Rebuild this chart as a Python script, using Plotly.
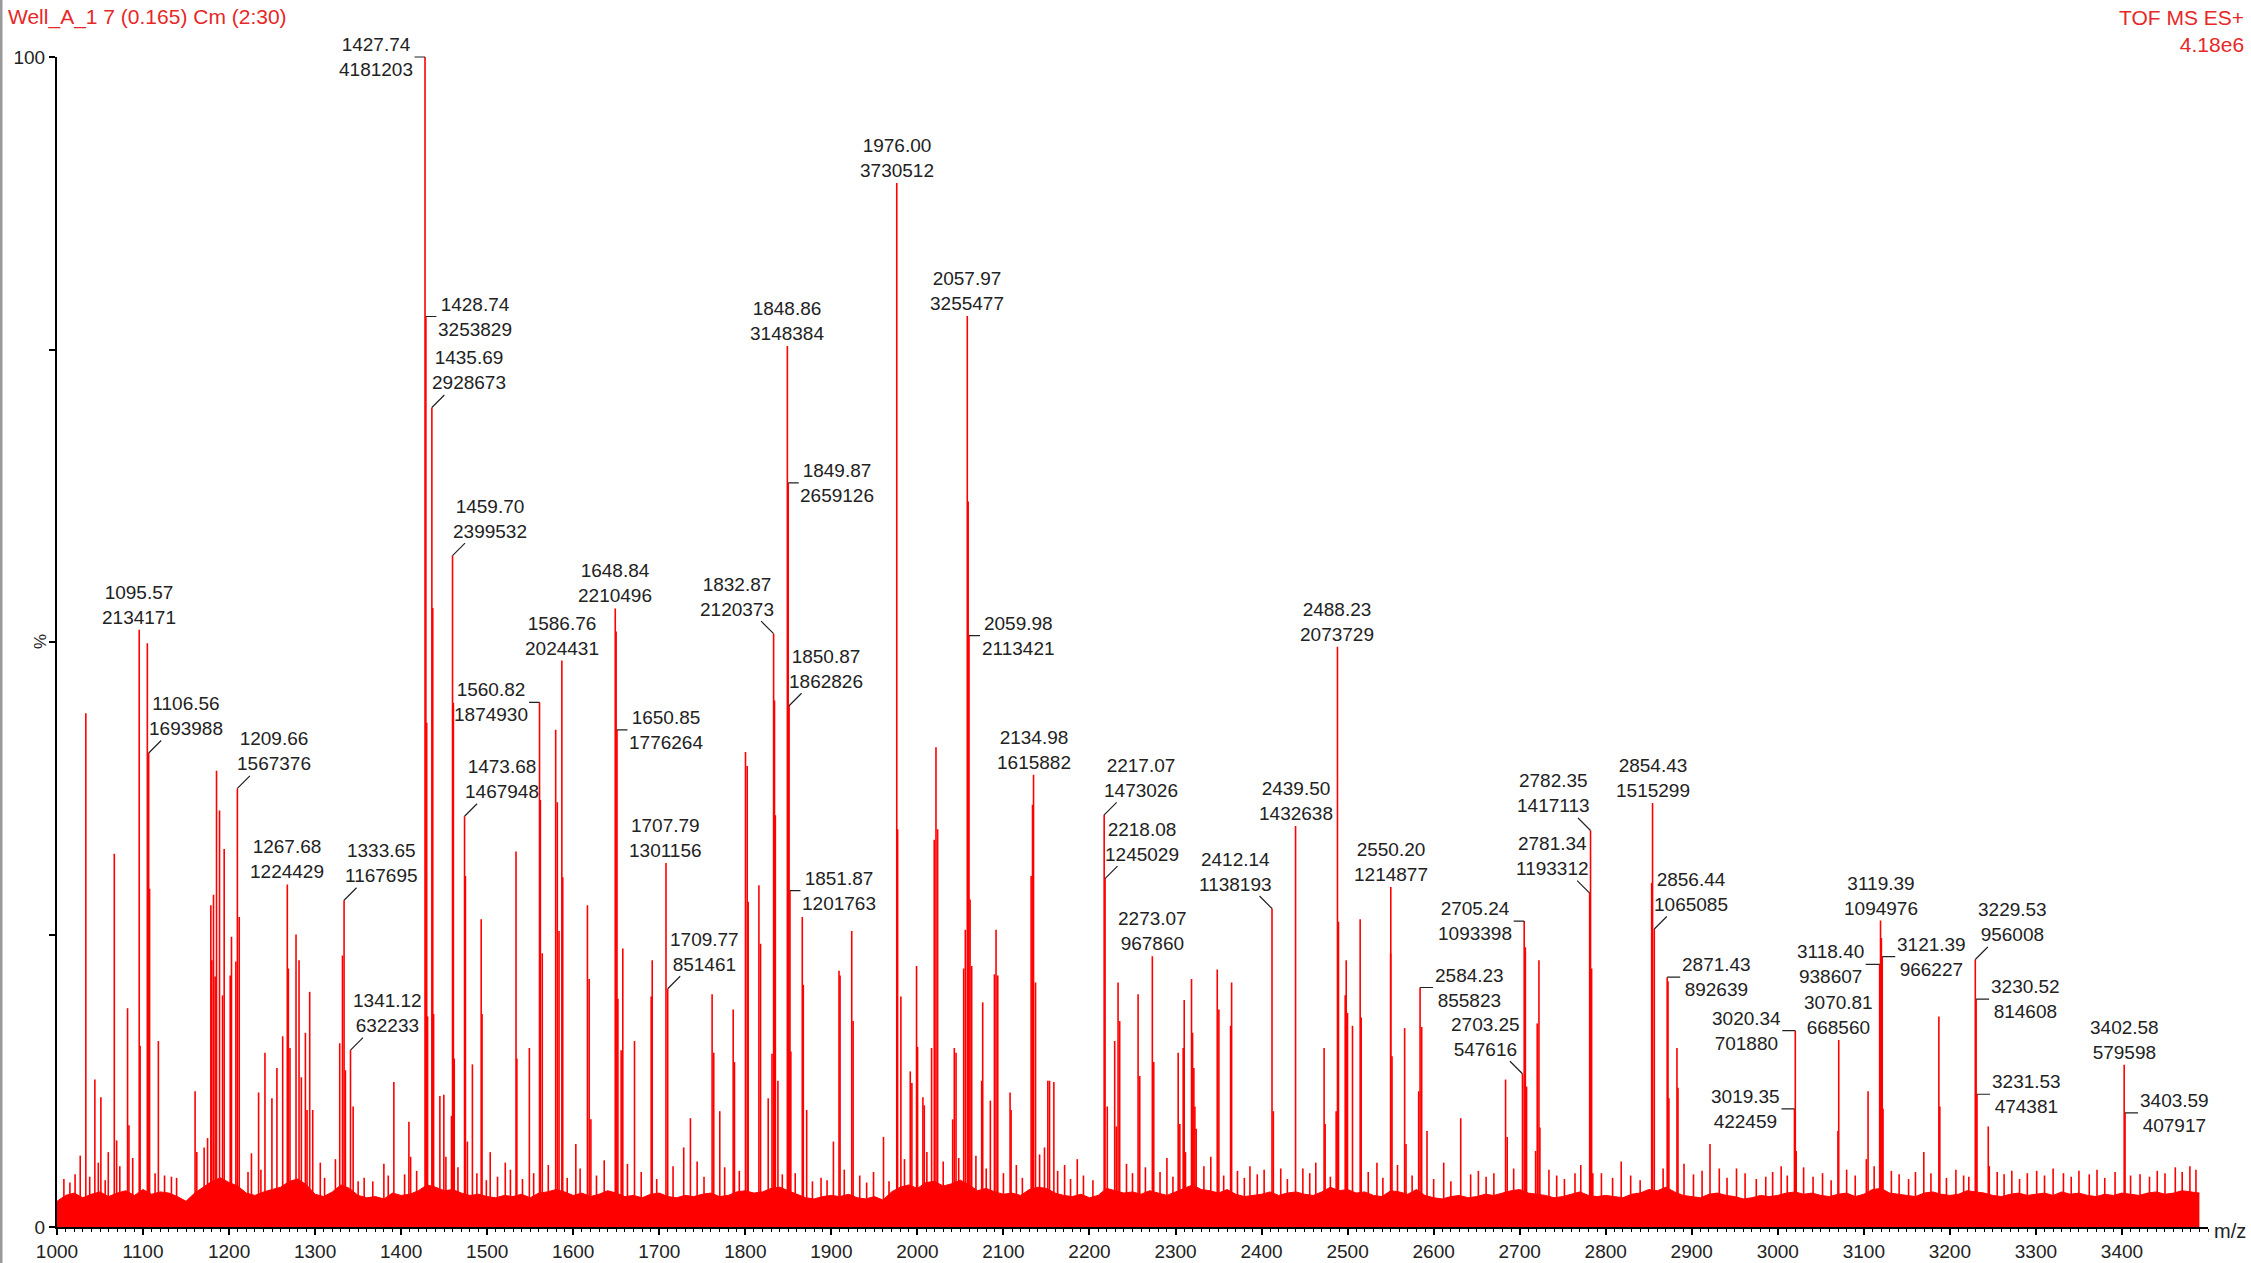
import plotly.graph_objects as go

# ---------------- data ----------------
BASE_INTENSITY = 4181203  # 100 % (4.18e6)

# labelled peaks: m/z and absolute intensity (as printed on the chart)
lab_mz = [1095.57, 1106.56, 1209.66, 1267.68, 1333.65, 1341.12, 1427.74, 1428.74,
          1435.69, 1459.70, 1473.68, 1560.82, 1586.76, 1648.84, 1650.85, 1707.79,
          1709.77, 1832.87, 1848.86, 1849.87, 1850.87, 1851.87, 1976.00, 2057.97,
          2059.98, 2134.98, 2217.07, 2218.08, 2273.07, 2412.14, 2439.50, 2488.23,
          2550.20, 2584.23, 2703.25, 2705.24, 2781.34, 2782.35, 2854.43, 2856.44,
          2871.43, 3019.35, 3020.34, 3070.81, 3118.40, 3119.39, 3121.39, 3229.53,
          3230.52, 3231.53, 3402.58, 3403.59]
lab_int = [2134171, 1693988, 1567376, 1224429, 1167695, 632233, 4181203, 3253829,
           2928673, 2399532, 1467948, 1874930, 2024431, 2210496, 1776264, 1301156,
           851461, 2120373, 3148384, 2659126, 1862826, 1201763, 3730512, 3255477,
           2113421, 1615882, 1473026, 1245029, 967860, 1138193, 1432638, 2073729,
           1214877, 855823, 547616, 1093398, 1193312, 1417113, 1515299, 1065085,
           892639, 422459, 701880, 668560, 938607, 1094976, 966227, 956008,
           814608, 474381, 579598, 407917]

# unlabelled peaks (m/z, % relative intensity)
peak_mz = [1033.5, 1044.0, 1051.0, 1059.6, 1066.6, 1069.3, 1082.0, 1083.6, 1096.6, 1105.0,
           1107.6, 1117.8, 1160.5, 1162.5, 1178.8, 1179.9, 1181.9, 1183.8, 1185.4, 1188.9,
           1192.4, 1194.3, 1201.3, 1202.8, 1207.9, 1211.8, 1234.3, 1241.7, 1249.8, 1255.6,
           1262.3, 1268.9, 1270.8, 1277.8, 1281.3, 1284.0, 1288.7, 1290.6, 1293.7, 1297.2,
           1323.6, 1328.6, 1331.8, 1335.2, 1344.2, 1379.9, 1391.5, 1409.0, 1411.0,
           1429.7, 1430.7, 1436.7, 1437.7, 1445.0, 1449.6, 1458.5, 1460.7, 1461.7, 1474.7,
           1477.0, 1482.8, 1493.0, 1494.0, 1503.5, 1521.0, 1533.5, 1534.5, 1549.0, 1561.8,
           1564.0, 1579.6, 1581.5, 1583.5, 1587.8, 1603.0, 1616.5, 1618.5, 1620.5, 1649.84,
           1651.9, 1655.7, 1657.6, 1671.2, 1690.6, 1691.8, 1728.4, 1736.2, 1761.4, 1763.3,
           1770.3, 1785.9, 1787.4, 1800.2, 1802.2, 1803.3, 1815.8, 1817.7, 1826.6, 1831.0,
           1833.9, 1834.9, 1837.9, 1852.9, 1866.2, 1867.4, 1871.3, 1902.4, 1908.9, 1910.1,
           1923.7, 1925.3, 1960.6, 1977.0, 1980.8, 1991.7, 1993.6, 1999.0, 2000.2, 2006.4,
           2008.0, 2016.5, 2019.6, 2021.6, 2023.5, 2041.0, 2042.9, 2044.9, 2053.8, 2055.7,
           2058.98, 2061.2, 2063.1, 2074.7, 2075.9, 2084.8, 2089.5, 2091.4, 2093.4, 2107.7,
           2108.9, 2132.2, 2133.8, 2137.3, 2147.7, 2151.6, 2153.6, 2158.6, 2171.1, 2185.8,
           2220.7, 2229.3, 2231.2, 2233.2, 2235.1, 2256.5, 2258.4, 2274.7,
           2303.1, 2305.0, 2308.9, 2310.1, 2311.6, 2318.6, 2319.8, 2321.3, 2322.5, 2324.0,
           2348.5, 2350.4, 2364.0, 2365.2, 2386.5, 2413.7, 2422.3, 2472.7, 2473.9, 2486.7,
           2489.4, 2497.2, 2498.4, 2499.9, 2505.7, 2514.6, 2515.8, 2534.1, 2550.0, 2551.6,
           2566.3, 2567.9, 2582.6, 2586.1, 2592.3, 2611.7, 2631.5, 2683.6, 2685.5, 2706.6,
           2708.0, 2718.5, 2720.4, 2722.4, 2723.5, 2764.3, 2783.6, 2785.0, 2853.4, 2866.7,
           2872.4, 2873.4, 2882.8, 2884.0, 2921.2, 2932.0, 3003.9, 3021.4, 3069.9, 3102.9,
           3104.9, 3120.39, 3122.3, 3169.7, 3187.2, 3188.3, 3244.6, 3245.8, 3300.9]
peak_pct = [43.9, 12.6, 11.1, 6.4, 31.9, 7.4, 18.7, 8.7, 15.5, 49.9,
            28.9, 15.9, 11.6, 6.4, 27.5, 22.8, 28.4, 21.4, 39.0, 35.6,
            19.8, 32.3, 21.5, 24.8, 22.7, 26.5, 11.5, 14.9, 11.0, 13.6,
            16.3, 22.1, 15.3, 25.0, 22.8, 12.8, 16.6, 10.0, 20.1, 10.0,
            5.8, 15.7, 23.2, 13.4, 10.3, 5.4, 12.4, 9.0, 6.0,
            43.1, 18.0, 52.9, 18.2, 11.2, 11.3, 9.5, 44.8, 14.4, 30.0,
            7.3, 13.9, 26.3, 18.2, 6.4, 5.5, 32.1, 14.4, 15.3, 36.5,
            23.4, 42.5, 36.3, 25.3, 29.9, 7.1, 27.5, 21.2, 9.2, 50.9,
            19.5, 15.1, 23.8, 15.9, 19.7, 22.8, 6.8, 9.3, 19.9, 14.9,
            9.9, 18.6, 14.1, 40.6, 39.4, 27.8, 29.2, 24.2, 11.0, 14.8,
            45.0, 35.2, 12.5, 15.0, 26.5, 20.7, 10.0, 7.3, 21.9, 21.5,
            25.3, 17.6, 7.7, 34.0, 19.7, 13.3, 12.3, 22.3, 15.4, 11.1,
            10.4, 15.3, 33.1, 41.0, 34.0, 9.2, 15.3, 14.9, 22.1, 25.4,
            62.0, 28.0, 22.3, 12.5, 19.2, 10.8, 21.6, 25.4, 21.5, 11.5,
            10.0, 30.0, 36.1, 20.9, 6.8, 12.5, 12.5, 12.4, 5.3, 5.8,
            10.3, 15.9, 8.6, 20.9, 17.6, 19.9, 12.9, 14.1,
            14.9, 8.8, 15.3, 19.4, 6.4, 21.2, 16.6, 13.6, 10.3, 8.4,
            22.0, 18.6, 17.2, 20.9, 5.2, 9.9, 5.0, 15.3, 8.8, 9.9,
            26.1, 19.8, 22.8, 18.3, 17.2, 26.3, 17.9, 5.5, 23.4, 14.6,
            17.0, 7.1, 11.6, 17.1, 8.2, 5.5, 9.3, 12.6, 7.7, 23.9,
            12.0, 6.5, 17.4, 22.8, 8.5, 4.6, 22.1, 4.6, 29.4, 5.0,
            21.0, 11.0, 15.3, 11.9, 7.1, 5.0, 5.2, 6.5, 8.2, 5.8,
            11.6, 24.7, 10.1, 6.4, 18.0, 10.3, 8.6, 5.2, 4.8]

# small spikes sticking out of the noise (m/z, %)
minor_mz = [1008, 1015, 1021, 1027, 1038, 1048, 1056, 1073, 1088, 1114,
            1125, 1133, 1139, 1171, 1175, 1222, 1226, 1237, 1306, 1311,
            1350, 1357, 1367, 1385, 1404, 1418, 1452, 1466, 1488, 1499,
            1512, 1527, 1541, 1554, 1571, 1593, 1608, 1627, 1636, 1663,
            1679, 1697, 1716, 1744, 1752, 1776, 1793, 1843, 1858, 1878,
            1888, 1895, 1915, 1933, 1941, 1949, 1967, 1985, 2011, 2030,
            2048, 2068, 2080, 2100, 2115, 2122, 2142, 2163, 2178, 2193,
            2204, 2243, 2250, 2265, 2282, 2290, 2297, 2333, 2341, 2356,
            2372, 2380, 2395, 2403, 2430, 2448, 2456, 2463, 2480, 2524,
            2541, 2558, 2575, 2600, 2620, 2643, 2652, 2661, 2670, 2693,
            2734, 2743, 2752, 2771, 2795, 2808, 2818, 2829, 2840, 2891,
            2902, 2912, 2941, 2952, 2962, 2975, 2986, 2994, 3011, 3030,
            3041, 3052, 3062, 3080, 3090, 3112, 3132, 3141, 3152, 3160,
            3178, 3196, 3207, 3216, 3222, 3255, 3263, 3272, 3281, 3290,
            3310, 3320, 3332, 3341, 3350, 3362, 3371, 3380, 3392, 3410,
            3421, 3432, 3441, 3450, 3462, 3470, 3479, 3486]
minor_pct = [4.1, 3.8, 4.5, 6.1, 4.3, 5.5, 4.0, 5.2, 5.9, 4.6,
             4.4, 4.3, 4.2, 6.8, 7.6, 4.7, 6.3, 4.9, 5.5, 4.2,
             3.9, 4.2, 3.9, 4.4, 4.5, 4.8, 6.0, 5.1, 4.6, 4.0,
             4.3, 4.9, 4.1, 4.6, 5.3, 4.2, 5.0, 4.4, 5.7, 5.4,
             4.7, 4.1, 5.2, 5.6, 4.3, 5.1, 4.8, 4.5, 4.6, 3.9,
             4.2, 4.0, 4.9, 4.4, 3.8, 4.7, 3.9, 5.8, 6.4, 5.6,
             5.9, 6.1, 5.0, 4.6, 5.3, 4.2, 6.2, 4.8, 4.1, 4.4,
             4.0, 5.4, 4.6, 5.1, 4.7, 5.9, 4.3, 5.2, 6.0, 4.4,
             4.8, 4.2, 4.5, 4.9, 4.1, 5.0, 4.6, 5.5, 4.3, 4.7,
             4.2, 5.3, 4.4, 4.1, 3.9, 4.5, 4.8, 4.3, 4.6, 5.0,
             4.9, 4.4, 4.1, 5.3, 4.6, 4.2, 5.6, 4.4, 4.0, 5.4,
             4.5, 4.8, 4.2, 5.0, 4.6, 4.1, 4.3, 4.7, 4.4, 5.1,
             4.3, 4.6, 4.0, 4.9, 4.4, 5.2, 4.8, 4.5, 4.1, 4.7,
             4.6, 4.2, 4.9, 4.4, 4.3, 4.7, 4.5, 4.8, 4.1, 4.6,
             4.4, 5.0, 4.6, 4.3, 4.8, 4.5, 4.9, 4.2, 4.7, 4.4,
             4.5, 4.3, 4.8, 4.6, 5.1, 4.7, 5.2, 4.9]

# baseline noise level (%), one value per 10 m/z from 1000 to 3490
noise_mz = list(range(1000, 3500, 10))
noise_pct = [
    2.2, 2.7, 2.9, 2.5, 2.8, 3.0, 2.6, 2.9, 3.1, 2.7,   # 1000
    3.2, 2.8, 3.0, 2.9, 2.6, 2.2, 2.9, 3.4, 3.9, 4.2,   # 1100
    3.8, 3.5, 2.9, 2.7, 3.0, 3.2, 3.4, 3.9, 4.1, 3.6,   # 1200
    2.8, 2.6, 3.0, 3.6, 3.3, 2.7, 2.5, 2.6, 2.4, 2.9,   # 1300
    2.7, 2.8, 3.1, 3.6, 3.4, 3.1, 3.2, 2.9, 2.7, 2.8,   # 1400
    2.6, 2.5, 2.7, 2.6, 2.8, 2.5, 2.9, 3.0, 3.2, 3.0,   # 1500
    2.7, 2.9, 2.6, 2.8, 3.1, 2.9, 2.6, 2.7, 2.5, 2.8,   # 1600
    2.9, 2.6, 2.5, 2.7, 2.6, 2.8, 2.9, 2.6, 2.7, 3.0,   # 1700
    3.1, 2.9, 3.0, 3.3, 3.4, 3.1, 2.8, 2.5, 2.4, 2.6,   # 1800
    2.7, 2.6, 2.8, 2.5, 2.4, 2.6, 2.3, 3.0, 3.4, 3.6,   # 1900
    3.3, 3.8, 3.9, 3.5, 3.7, 4.0, 3.6, 3.1, 3.3, 3.0,   # 2000
    2.8, 2.9, 2.7, 3.2, 3.4, 3.3, 2.9, 2.7, 2.6, 2.8,   # 2100
    2.5, 2.7, 3.3, 3.1, 2.9, 3.0, 2.8, 3.1, 2.9, 2.7,   # 2200
    3.0, 3.3, 3.6, 3.2, 3.1, 2.9, 3.2, 2.8, 2.6, 2.7,   # 2300
    2.8, 3.0, 2.7, 2.9, 3.0, 2.8, 2.7, 3.0, 3.4, 3.1,   # 2400
    3.2, 2.9, 3.0, 2.7, 2.6, 3.1, 3.0, 2.8, 3.2, 2.7,   # 2500
    2.5, 2.4, 2.6, 2.7, 2.5, 2.6, 2.8, 2.7, 2.9, 3.1,   # 2600
    3.2, 2.9, 2.8, 2.7, 2.5, 2.6, 2.8, 3.0, 2.7, 2.6,   # 2700
    2.7, 2.6, 2.5, 2.8, 2.9, 3.2, 3.1, 3.4, 3.0, 2.7,   # 2800
    2.6, 2.5, 2.8, 2.9, 2.7, 2.6, 2.4, 2.5, 2.7, 2.6,   # 2900
    2.7, 2.9, 3.0, 2.8, 2.9, 2.7, 2.6, 2.8, 2.9, 2.6,   # 3000
    2.8, 3.2, 3.3, 2.9, 2.8, 2.7, 2.6, 2.9, 3.0, 2.8,   # 3100
    2.7, 2.8, 3.1, 3.0, 2.9, 2.7, 2.6, 2.8, 2.9, 2.7,   # 3200
    2.8, 2.9, 2.7, 3.0, 2.8, 2.9, 2.7, 2.6, 2.8, 2.7,   # 3300
    2.9, 2.8, 2.7, 2.9, 3.0, 2.8, 2.9, 3.1, 3.0, 2.9,   # 3400
]

x_tick_vals = list(range(1000, 3500, 100))
y_tick_vals = [0, 25, 50, 75, 100]
y_tick_text = ["0", "", "", "", "100"]

# label placement style per labelled peak (a=above, r/l=side, ur/ul=diagonal)
lab_style = ["a", "ur", "ur", "a", "ur", "ur", "l", "r", "ur", "ur", "ur", "l", "a", "a", "r", "a",
             "ur", "ul", "a", "r", "ur", "r", "a", "a", "r", "a", "ur", "ur", "a", "ul", "a", "a",
             "a", "r", "ul", "l", "ul", "ul", "a", "ur", "r", "l", "l", "a", "l", "a", "r", "ur",
             "r", "r", "a", "r"]

# ---------------- layout constants ----------------
W, H = 2251, 1263
ML, MR, MT, MB = 57, 43, 57, 36
PW, PH = W - ML - MR, H - MT - MB
RED = "#FF0000"
TXT = "#222222"
FONT = "Liberation Sans, Arial, sans-serif"


def px_x(px):
    return (px - ML) / PW


def px_y(py):
    return (H - MB - py) / PH


# ---------------- traces ----------------
lab_pct = [v / BASE_INTENSITY * 100 for v in lab_int]
all_mz = minor_mz + peak_mz + lab_mz
all_pct = minor_pct + peak_pct + lab_pct

sx, sy = [], []
for m, p in zip(all_mz, all_pct):
    sx += [m, m, None]
    sy += [0, p, None]

fig = go.Figure()
fig.add_trace(go.Scatter(x=noise_mz, y=noise_pct, mode="lines", fill="tozeroy",
                         fillcolor=RED, line=dict(color=RED, width=1),
                         hoverinfo="skip", showlegend=False))
fig.add_trace(go.Scatter(x=sx, y=sy, mode="lines", line=dict(color=RED, width=1.6),
                         hoverinfo="skip", showlegend=False))

# ---------------- annotations ----------------
offsets = {"r": (49, 0), "l": (-49, 0), "ur": (37, -37), "ul": (-37, -37)}
LABEL_FONT = dict(family=FONT, size=19, color=TXT)
annotations = []
for m, v, p, s in zip(lab_mz, lab_int, lab_pct, lab_style):
    text = f"{m:.2f}<br>{v}"
    if s == "a":
        annotations.append(dict(x=m, y=p, xref="x", yref="y", text=text, showarrow=False,
                                xanchor="center", yanchor="bottom", font=LABEL_FONT))
    else:
        ax, ay = offsets[s]
        annotations.append(dict(x=m, y=p, xref="x", yref="y", text=text, showarrow=True,
                                arrowhead=0, arrowwidth=1.2, arrowcolor=TXT, ax=ax, ay=ay,
                                standoff=0, startstandoff=0, font=LABEL_FONT))

annotations += [
    dict(x=px_x(6), y=px_y(17), xref="paper", yref="paper", text="Well_A_1 7 (0.165) Cm (2:30)",
         showarrow=False, xanchor="left", yanchor="middle",
         font=dict(family=FONT, size=21, color="#E62828")),
    dict(x=px_x(2246), y=px_y(4), xref="paper", yref="paper", text="TOF MS ES+<br>4.18e6",
         showarrow=False, xanchor="right", yanchor="top", align="right",
         font=dict(family=FONT, size=21, color="#E62828")),
    dict(x=px_x(40), y=0.5, xref="paper", yref="paper", text="%", showarrow=False,
         textangle=-90, xanchor="center", yanchor="middle",
         font=dict(family=FONT, size=17, color=TXT)),
    dict(x=px_x(2212), y=px_y(1231), xref="paper", yref="paper", text="m/z", showarrow=False,
         xanchor="left", yanchor="middle", font=dict(family=FONT, size=20, color=TXT)),
]

shapes = [
    dict(type="line", xref="paper", yref="paper", x0=px_x(1), x1=px_x(1), y0=px_y(H), y1=px_y(0),
         line=dict(color="#9a9a9a", width=3)),
]

fig.update_layout(
    width=W, height=H,
    margin=dict(l=ML, r=MR, t=MT, b=MB, autoexpand=False),
    paper_bgcolor="white", plot_bgcolor="white",
    annotations=annotations, shapes=shapes,
    font=dict(family=FONT, color=TXT),
    xaxis=dict(range=[1000, 3500], tickvals=x_tick_vals, ticks="outside", ticklen=6,
               tickwidth=1.5, tickcolor="black", showline=True, linecolor="black", linewidth=2,
               showgrid=False, zeroline=False, automargin=False,
               tickfont=dict(family=FONT, size=19, color=TXT),
               minor=dict(dtick=10, tick0=1000, ticks="outside", ticklen=3, tickwidth=1,
                          tickcolor="black", showgrid=False)),
    yaxis=dict(range=[0, 100], tickvals=y_tick_vals, ticktext=y_tick_text, ticks="outside",
               ticklen=6, tickwidth=1.5, tickcolor="black", showline=True, linecolor="black",
               linewidth=2, showgrid=False, zeroline=False, automargin=False,
               tickfont=dict(family=FONT, size=19, color=TXT)),
)

fig.write_html("out.html")
